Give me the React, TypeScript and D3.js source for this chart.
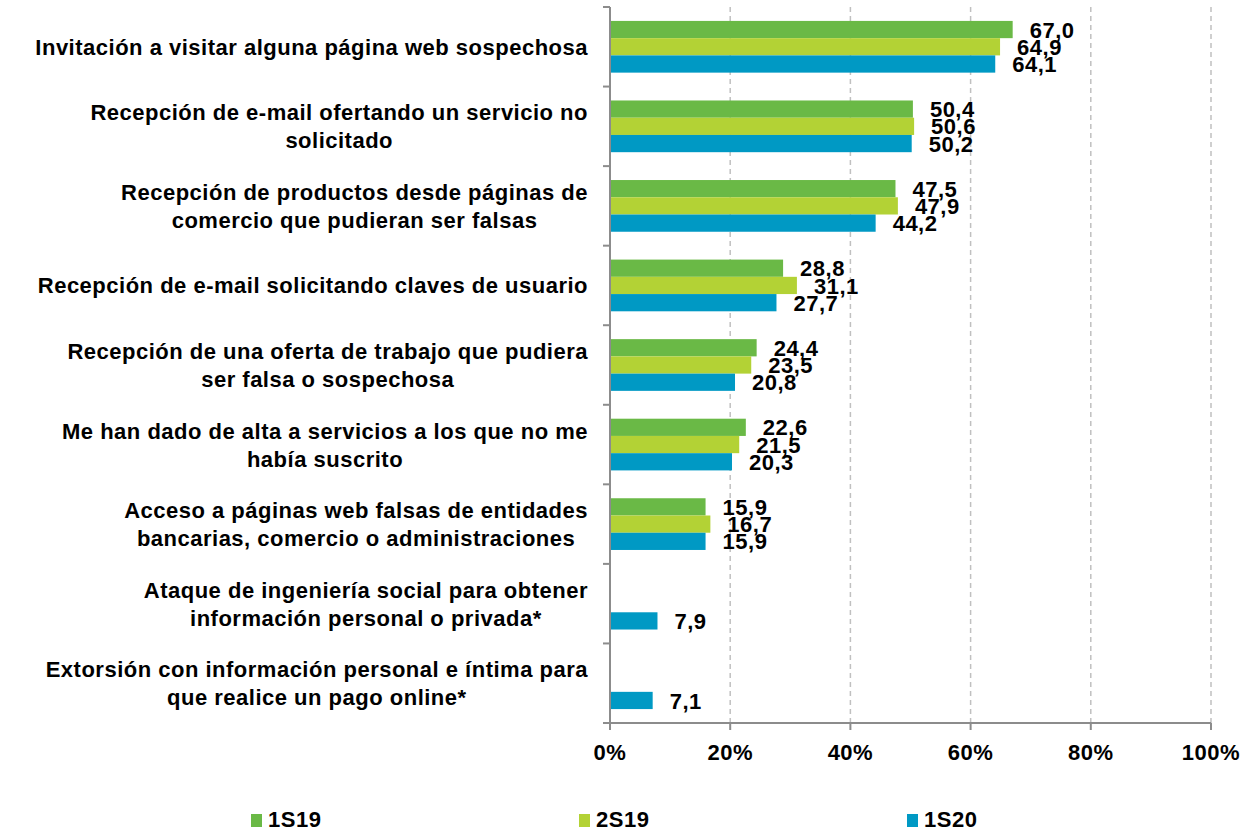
import React, { useEffect, useRef } from "react";
import * as d3 from "d3";

const categories: string[][] = [
  ["Invitación a visitar alguna página web sospechosa"],
  ["Recepción de e-mail ofertando un servicio no", "solicitado"],
  ["Recepción de productos desde páginas de", "comercio que pudieran ser falsas"],
  ["Recepción de e-mail solicitando claves de usuario"],
  ["Recepción de una oferta de trabajo que pudiera", "ser falsa o sospechosa"],
  ["Me han dado de alta a servicios a los que no me", "había suscrito"],
  ["Acceso a páginas web falsas de entidades", "bancarias, comercio o administraciones"],
  ["Ataque de ingeniería social para obtener", "información personal o privada*"],
  ["Extorsión con información personal e íntima para", "que realice un pago online*"],
];

const seriesNames = ["1S19", "2S19", "1S20"];
const s1S19: (number | null)[] = [67.0, 50.4, 47.5, 28.8, 24.4, 22.6, 15.9, null, null];
const s2S19: (number | null)[] = [64.9, 50.6, 47.9, 31.1, 23.5, 21.5, 16.7, null, null];
const s1S20: (number | null)[] = [64.1, 50.2, 44.2, 27.7, 20.8, 20.3, 15.9, 7.9, 7.1];
const seriesValues = [s1S19, s2S19, s1S20];
const seriesColors = ["#6ab946", "#b3d235", "#0099c4"];
const xTicks = [0, 20, 40, 60, 80, 100];

const W = 1259;
const H = 831;
const FONT = "'Liberation Sans', Arial, sans-serif";
const LS = "0.5px";

export default function App() {
  const ref = useRef<SVGSVGElement>(null);

  useEffect(() => {
    const svg = d3.select(ref.current);
    svg.selectAll("*").remove();

    const x = d3.scaleLinear().domain([0, 100]).range([610, 1211]);
    const y = d3
      .scaleBand<number>()
      .domain(categories.map((_, i) => i))
      .range([7, 723]);
    const bw = y.bandwidth();
    const ys = d3
      .scaleBand<number>()
      .domain([0, 1, 2])
      .range([bw * 0.175, bw * 0.825]);

    // gridlines
    svg
      .append("g")
      .selectAll("line")
      .data(xTicks.filter((t) => t > 0))
      .join("line")
      .attr("x1", (d) => x(d))
      .attr("x2", (d) => x(d))
      .attr("y1", 7)
      .attr("y2", 723)
      .attr("stroke", "#c0c0c0")
      .attr("stroke-width", 1.5)
      .attr("stroke-dasharray", "5,4");

    // bars
    seriesValues.forEach((vals, si) => {
      const g = svg.append("g");
      const data = vals
        .map((v, i) => ({ v, i }))
        .filter((d) => d.v !== null) as { v: number; i: number }[];
      g.selectAll("rect")
        .data(data)
        .join("rect")
        .attr("x", x(0))
        .attr("y", (d) => (y(d.i) as number) + (ys(si) as number))
        .attr("width", (d) => x(d.v) - x(0))
        .attr("height", ys.bandwidth())
        .attr("fill", seriesColors[si]);
    });

    // axes
    const axisColor = "#8c8c8c";
    svg
      .append("line")
      .attr("x1", 610)
      .attr("x2", 610)
      .attr("y1", 7)
      .attr("y2", 723)
      .attr("stroke", axisColor)
      .attr("stroke-width", 2);
    svg
      .append("line")
      .attr("x1", 603)
      .attr("x2", 1211)
      .attr("y1", 723)
      .attr("y2", 723)
      .attr("stroke", axisColor)
      .attr("stroke-width", 2);
    const yTickPos = categories.map((_, i) => y(i) as number).concat([723]);
    svg
      .append("g")
      .selectAll("line")
      .data(yTickPos)
      .join("line")
      .attr("x1", 603)
      .attr("x2", 610)
      .attr("y1", (d) => d)
      .attr("y2", (d) => d)
      .attr("stroke", axisColor)
      .attr("stroke-width", 2);
    svg
      .append("g")
      .selectAll("line")
      .data(xTicks)
      .join("line")
      .attr("x1", (d) => x(d))
      .attr("x2", (d) => x(d))
      .attr("y1", 723)
      .attr("y2", 730)
      .attr("stroke", axisColor)
      .attr("stroke-width", 2);

    // x tick labels
    svg
      .append("g")
      .selectAll("text")
      .data(xTicks)
      .join("text")
      .attr("x", (d) => x(d))
      .attr("y", 760)
      .attr("text-anchor", "middle")
      .attr("font-family", FONT)
      .attr("font-weight", "bold")
      .attr("font-size", 22)
      .attr("letter-spacing", LS)
      .attr("fill", "#000")
      .text((d) => `${d}%`);

    // value labels
    const fmt = (v: number) => v.toFixed(1).replace(".", ",");
    seriesValues.forEach((vals, si) => {
      const data = vals
        .map((v, i) => ({ v, i }))
        .filter((d) => d.v !== null) as { v: number; i: number }[];
      svg
        .append("g")
        .selectAll("text")
        .data(data)
        .join("text")
        .attr("x", (d) => x(d.v) + 17)
        .attr("y", (d) => (y(d.i) as number) + (ys(si) as number) + ys.bandwidth() - 0.5)
        .attr("font-family", FONT)
        .attr("font-weight", "bold")
        .attr("font-size", 22)
        .attr("letter-spacing", LS)
        .attr("fill", "#000")
        .text((d) => fmt(d.v));
    });

    // category labels
    const lineH = 28;
    categories.forEach((lines, i) => {
      const cy = (y(i) as number) + bw / 2;
      const g = svg.append("g");
      const texts = g
        .selectAll("text")
        .data(lines)
        .join("text")
        .attr("y", (_, li) => cy + (li - (lines.length - 1) / 2) * lineH + 8)
        .attr("text-anchor", "middle")
        .attr("font-family", FONT)
        .attr("font-weight", "bold")
        .attr("font-size", 22)
        .attr("letter-spacing", LS)
        .attr("fill", "#000")
        .text((d) => d);
      let maxW = 0;
      texts.each(function () {
        maxW = Math.max(maxW, (this as SVGTextElement).getComputedTextLength());
      });
      texts.attr("x", 588 - maxW / 2);
    });

    // legend
    const legendX = [251, 579, 907];
    seriesNames.forEach((name, si) => {
      svg
        .append("rect")
        .attr("x", legendX[si])
        .attr("y", 814)
        .attr("width", 11)
        .attr("height", 13)
        .attr("fill", seriesColors[si]);
      svg
        .append("text")
        .attr("x", legendX[si] + 17)
        .attr("y", 827)
        .attr("font-family", FONT)
        .attr("font-weight", "bold")
        .attr("font-size", 22)
        .attr("letter-spacing", LS)
        .attr("fill", "#000")
        .text(name);
    });
  }, []);

  return (
    <svg
      ref={ref}
      width={W}
      height={H}
      style={{ position: "absolute", left: 0, top: 0, background: "#fff" }}
    />
  );
}
